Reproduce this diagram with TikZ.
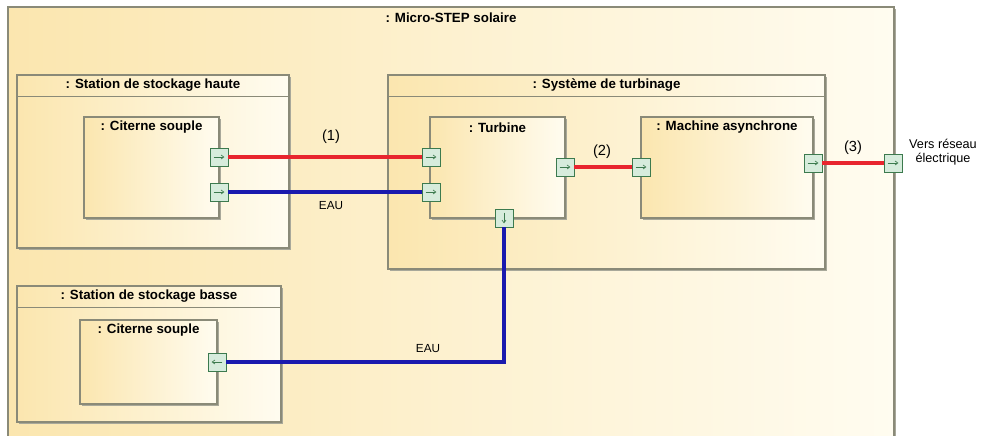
\documentclass[tikz,border=0pt]{standalone}
\usepackage{fontspec}
\setmainfont{Liberation Sans}
\usetikzlibrary{shadows,fit,arrows.meta,calc}
\definecolor{bgdark}{HTML}{FBE6AF}
\definecolor{bglight}{HTML}{FFFCF0}
\definecolor{framec}{HTML}{8A8A78}
\definecolor{shadec}{HTML}{A8A89A}
\definecolor{portfill}{HTML}{D6ECDC}
\definecolor{portdraw}{HTML}{3C7A4E}
\definecolor{redc}{HTML}{E8252E}
\definecolor{bluec}{HTML}{1A1AAE}
\begin{document}
\begin{tikzpicture}[x=0.75pt,y=-0.75pt,
  blk/.style={draw=framec, line width=0.8pt, inner sep=0pt,
    left color=bgdark, right color=bglight,
    general shadow={shadow xshift=1.6pt, shadow yshift=-1.6pt, fill=shadec}},
  ttl/.style={font=\bfseries\fontsize{10}{12}\selectfont, inner sep=0pt},
  lbl/.style={font=\fontsize{11}{13}\selectfont, inner sep=0pt},
  eau/.style={font=\fontsize{8.8}{10}\selectfont, inner sep=0pt},
  port/.style={draw=portdraw, fill=portfill, minimum size=13.5pt, inner sep=0pt, line width=0.7pt},
  portR/.style={port, path picture={\draw[portdraw, line width=0.5pt, -{Straight Barb[length=2pt,width=3pt]}]
    ([xshift=-4pt]path picture bounding box.center) -- ([xshift=4pt]path picture bounding box.center);}},
  portL/.style={port, path picture={\draw[portdraw, line width=0.5pt, -{Straight Barb[length=2pt,width=3pt]}]
    ([xshift=4pt]path picture bounding box.center) -- ([xshift=-4pt]path picture bounding box.center);}},
  portD/.style={port, path picture={\draw[portdraw, line width=0.5pt, -{Straight Barb[length=2pt,width=3pt]}]
    ([yshift=4pt]path picture bounding box.center) -- ([yshift=-4pt]path picture bounding box.center);}},
  redw/.style={draw=redc, line width=3pt},
  bluew/.style={draw=bluec, line width=2.6pt},
  bandline/.style={draw=framec, line width=0.8pt}
]
\useasboundingbox (0,0) rectangle (983,436);
\clip (0,0) rectangle (983,436);
\fill[white] (0,0) rectangle (983,436);

% outer frame
\node[blk, fit={(8,7) (894,480)}] (outer) {};
\node[ttl] (outerttl) at (451,18) {: Micro-STEP solaire};

% Station de stockage haute
\node[blk, fit={(17,75) (289,248)}] (sh) {};
\draw[bandline] ($(sh.north west)+(0,22)$) -- ($(sh.north east)+(0,22)$);
\node[ttl] (shttl) at ($(sh.north)+(0,11)$) {: Station de stockage haute};
\node[blk, fit={(84,117) (219,218)}] (ch) {};
\node[ttl] (chttl) at ($(ch.north)+(0,11)$) {: Citerne souple};

% Systeme de turbinage
\node[blk, fit={(388,75) (825,269)}] (st) {};
\draw[bandline] ($(st.north west)+(0,22)$) -- ($(st.north east)+(0,22)$);
\node[ttl] (stttl) at ($(st.north)+(0,11)$) {: Système de turbinage};
\node[blk, fit={(430,117) (565,218)}] (tu) {};
\node[ttl] (tuttl) at ($(tu.north)+(0,11)$) {: Turbine};
\node[blk, fit={(641,117) (813,218)}] (ma) {};
\node[ttl] (mattl) at ($(ma.north)+(0,11)$) {: Machine asynchrone};

% Station de stockage basse
\node[blk, fit={(17,286) (281,422)}] (sb) {};
\draw[bandline] ($(sb.north west)+(0,22)$) -- ($(sb.north east)+(0,22)$);
\node[ttl] (sbttl) at ($(sb.north)+(0,11)$) {: Station de stockage basse};
\node[blk, fit={(80,320) (217,404)}] (cb) {};
\node[ttl] (cbttl) at ($(cb.north)+(0,11)$) {: Citerne souple};

% ports
\node[portR] (chp1) at (219,157) {};
\node[portR] (chp2) at (219,192) {};
\node[portR] (tin1) at (431,157) {};
\node[portR] (tin2) at (431,192) {};
\node[portR] (tout) at (565,167) {};
\node[portD] (tbot) at (504,218) {};
\node[portR] (min) at (641,167) {};
\node[portR] (mout) at (813,163) {};
\node[portR] (oport) at (893,163) {};
\node[portL] (cbp) at (217,362) {};

% connectors
\draw[redw] (chp1.east) -- (tin1.west);
\draw[bluew] (chp2.east) -- (tin2.west);
\draw[redw] (tout.east) -- (min.west);
\draw[redw] (mout.east) -- (oport.west);
\draw[bluew] (tbot.south) |- (cbp.east);

% labels
\node[lbl] (l1) at (331,137) {(1)};
\node[eau] (e1) at (331,206) {EAU};
\node[lbl] (l2) at (602,152) {(2)};
\node[lbl] (l3) at (853,148) {(3)};
\node[eau] (e2) at (428,349) {EAU};
\node[font=\fontsize{9.5}{11}\selectfont, align=center, inner sep=0pt] (vers) at (943,152) {Vers réseau\\électrique};
\end{tikzpicture}
\end{document}
